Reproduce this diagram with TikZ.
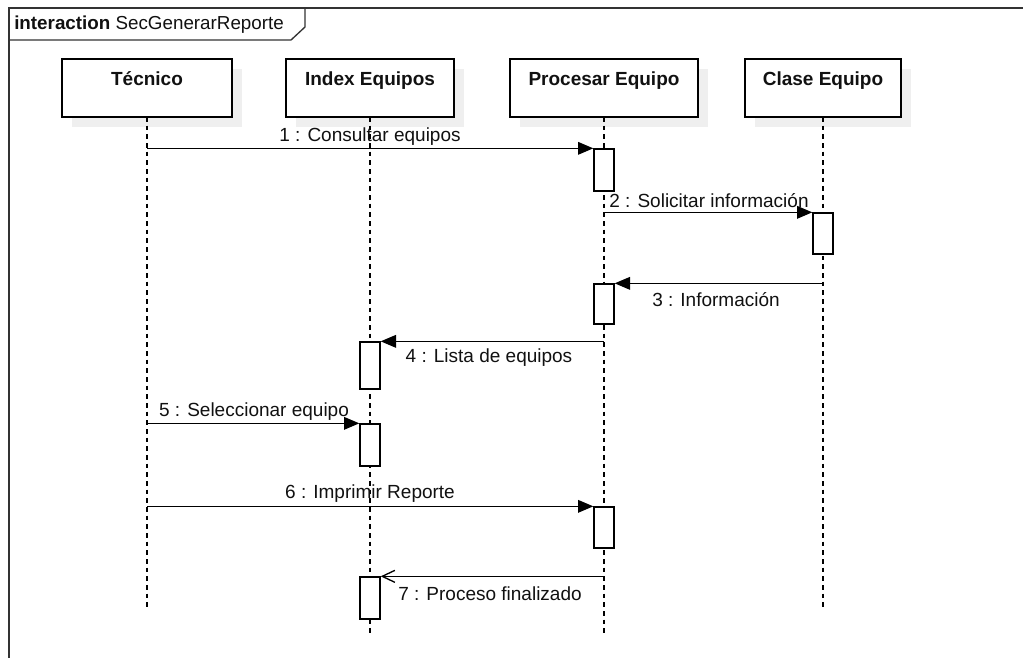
\documentclass[tikz,border=0pt]{standalone}
\usepackage{fontspec}
\setmainfont{Liberation Sans}
\usetikzlibrary{arrows.meta,calc}
\definecolor{framegray}{HTML}{333333}
\definecolor{shadowgray}{HTML}{EFEFEF}
\definecolor{inkdark}{HTML}{111111}
\begin{document}
\begin{tikzpicture}[x=0.75pt,y=-0.75pt,
  txt/.style={font=\fontsize{14.25}{17}\selectfont,text=inkdark,inner sep=0pt},
  headbox/.style={draw=black,line width=1pt,fill=white,inner sep=0pt,minimum height=43.5pt,minimum width=#1},
  headshadow/.style={fill=shadowgray,draw=none,inner sep=0pt,minimum height=43.5pt,minimum width=#1},
  headtext/.style={txt,font=\fontsize{14.25}{17}\selectfont\bfseries,anchor=base},
  lifeline/.style={line width=1pt,dash pattern=on 3.5pt off 3pt},
  act/.style={draw=black,line width=1pt,fill=white,inner sep=0pt,minimum width=15pt,minimum height=#1},
  msg/.style={line width=1pt,-{Triangle[length=11.5pt,width=9.5pt]}},
  reply/.style={line width=1pt,-{Straight Barb[length=9.5pt,width=9pt]}},
  lbl/.style={txt}]
\useasboundingbox (0,0) rectangle (1023,657);
\clip (0,0) rectangle (1023,657);
\fill[white] (0,0) rectangle (1023,657);

% interaction frame and its name tag
\draw[framegray,line width=1pt] (9,700) -- (9,8) -- (1040,8);
\draw[framegray,line width=1pt] (9,40) -- (291,40) -- (305,27) -- (305,8);
\node[txt,anchor=base west,font=\fontsize{14.1}{17}\selectfont] (title) at (14,29) {\textbf{interaction} SecGenerarReporte};

% shadows of the lifeline heads
\node[headshadow=127.5pt] (tecS) at (157,98) {};
\node[headshadow=126pt] (idxS) at (380,98) {};
\node[headshadow=141pt] (procS) at (614,98) {};
\node[headshadow=117pt] (claseS) at (833,98) {};

% lifeline ends
\coordinate (tecEnd) at (147,607);
\coordinate (idxEnd) at (370,635);
\coordinate (procEnd) at (604,635);
\coordinate (claseEnd) at (823,607);

% lifelines
\draw[lifeline] (147,117) -- (tecEnd);
\draw[lifeline] (370,117) -- (idxEnd);
\draw[lifeline] (604,117) -- (procEnd);
\draw[lifeline] (823,117) -- (claseEnd);

% lifeline heads
\node[headbox=127.5pt] (tec) at (147,88) {};
\node[headbox=126pt] (idx) at (370,88) {};
\node[headbox=141pt] (proc) at (604,88) {};
\node[headbox=117pt] (clase) at (823,88) {};
\node[headtext] (tecT) at (147,85) {Técnico};
\node[headtext] (idxT) at (370,85) {Index Equipos};
\node[headtext] (procT) at (604,85) {Procesar Equipo};
\node[headtext] (claseT) at (823,85) {Clase Equipo};

% activations
\node[act=31.5pt] (A1) at (604,170) {};
\node[act=30.75pt] (A2) at (823,233.5) {};
\node[act=30pt] (A3) at (604,304) {};
\node[act=35.25pt] (A4) at (370,365.5) {};
\node[act=31.5pt] (A5) at (370,445) {};
\node[act=30.75pt] (A6) at (604,527.5) {};
\node[act=31.5pt] (A7) at (370,598) {};

% messages
\draw[msg] (tec |- A1.north) -- (A1.north west);
\draw[msg] (proc |- A2.north) -- (A2.north west);
\draw[msg] (clase |- A3.north) -- (A3.north east);
\draw[msg] (proc |- A4.north) -- (A4.north east);
\draw[msg] (tec |- A5.north) -- (A5.north west);
\draw[msg] (tec |- A6.north) -- (A6.north west);
\draw[reply] (proc |- A7.north) -- (A7.north east);

% message labels
\node[lbl] (m1) at (370,137) {1 : Consultar equipos};
\node[lbl] (m2) at (709,201) {2 : Solicitar información};
\node[lbl] (m3) at (716,300) {3 : Información};
\node[lbl] (m4) at (489,358) {4 : Lista de equipos};
\node[lbl] (m5) at (254,412) {5 : Seleccionar equipo};
\node[lbl] (m6) at (370,494) {6 : Imprimir Reporte};
\node[lbl] (m7) at (490,594) {7 : Proceso finalizado};
\end{tikzpicture}
\end{document}
